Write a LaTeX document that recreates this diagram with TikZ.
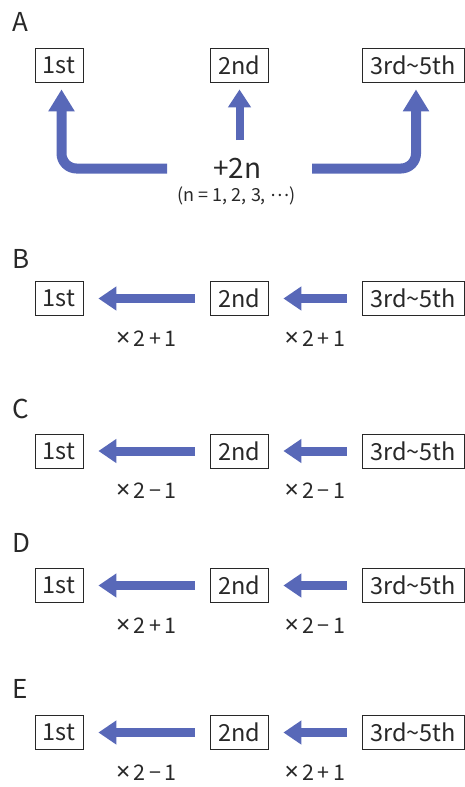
\documentclass[tikz,border=0pt]{standalone}
\usepackage{fontspec}
\setmainfont{Noto Sans CJK JP}
\newfontfamily\latsans{Noto Sans}
\usetikzlibrary{arrows.meta,calc}
\definecolor{arrowblue}{RGB}{88,104,184}
\definecolor{ink}{RGB}{40,40,40}
\newcommand{\tms}{{\latsans\fontsize{25}{25}\selectfont ×}\,}
\begin{document}
\begin{tikzpicture}[x=1pt,y=-1pt,
  box/.style={draw=ink, line width=0.8pt, inner sep=0pt, minimum height=34pt,
    text=ink, font=\fontsize{23.5}{25}\selectfont},
  letter/.style={inner sep=0pt, anchor=west, text=ink, font=\fontsize{26}{28}\selectfont},
  plain/.style={inner sep=0pt, text=ink},
  lab/.style={inner sep=0pt, text=ink, font=\fontsize{21.5}{23}\selectfont},
  bigarrow/.style={draw=arrowblue, line width=10pt, -{Triangle[length=22pt,width=25pt]}},
  midarrow/.style={draw=arrowblue, line width=8pt, -{Triangle[length=18pt,width=22pt]}},
  rowarrow/.style={draw=arrowblue, line width=9pt, -{Triangle[length=18pt,width=23pt]},
    shorten <=15pt, shorten >=15pt}]
\useasboundingbox (0,0) rectangle (465,787);

% ---- A ----
\node[letter] (labA) at (12,22) {A};
\node[box, minimum width=48pt] (a1) at (59,65) {1st};
\node[box, minimum width=58pt] (a2) at (239,65) {2nd};
\node[box, minimum width=102pt] (a3) at (413,65) {3rd\textasciitilde5th};
\node[plain, font=\fontsize{28}{30}\selectfont] (plus) at (237.5,168) {+2n};
\node[plain, font=\fontsize{18}{20}\selectfont] (nrange) at (236.5,196) {(n = 1, 2, 3, \raisebox{0.28em}{…})};
\coordinate (la) at (167,168.5);
\coordinate (ra) at (312,168.5);
\coordinate (ma) at (239.5,140);
\draw[bigarrow, rounded corners=15pt] (la) -| ([xshift=2.5pt,yshift=-7pt]a1.south);
\draw[bigarrow, rounded corners=15pt] (ra) -| ([xshift=3pt,yshift=-7pt]a3.south);
\draw[midarrow] (ma) -- ([xshift=0.5pt,yshift=-7pt]a2.south);

% ---- B to E ----
\foreach \r/\ly/\y/\lo/\lt in {
    B/258.5/298.5/{\tms 2\,+\,1}/{\tms 2\,+\,1},
    C/409/451/{\tms 2\,−\,1}/{\tms 2\,−\,1},
    D/543/585.5/{\tms 2\,+\,1}/{\tms 2\,−\,1},
    E/689/732.5/{\tms 2\,−\,1}/{\tms 2\,+\,1}} {
  \node[letter] (lab\r) at (12,\ly) {\r};
  \node[box, minimum width=48pt] (\r1) at (59,\y) {1st};
  \node[box, minimum width=58pt] (\r2) at (239,\y) {2nd};
  \node[box, minimum width=102pt] (\r3) at (413,\y) {3rd\textasciitilde5th};
  \draw[rowarrow] (\r2.west) -- (\r1.east) node[lab, midway, yshift=-40pt] (\r l1) {\lo};
  \draw[rowarrow] (\r3.west) -- (\r2.east) node[lab, midway, yshift=-40pt] (\r l2) {\lt};
}
\end{tikzpicture}
\end{document}
